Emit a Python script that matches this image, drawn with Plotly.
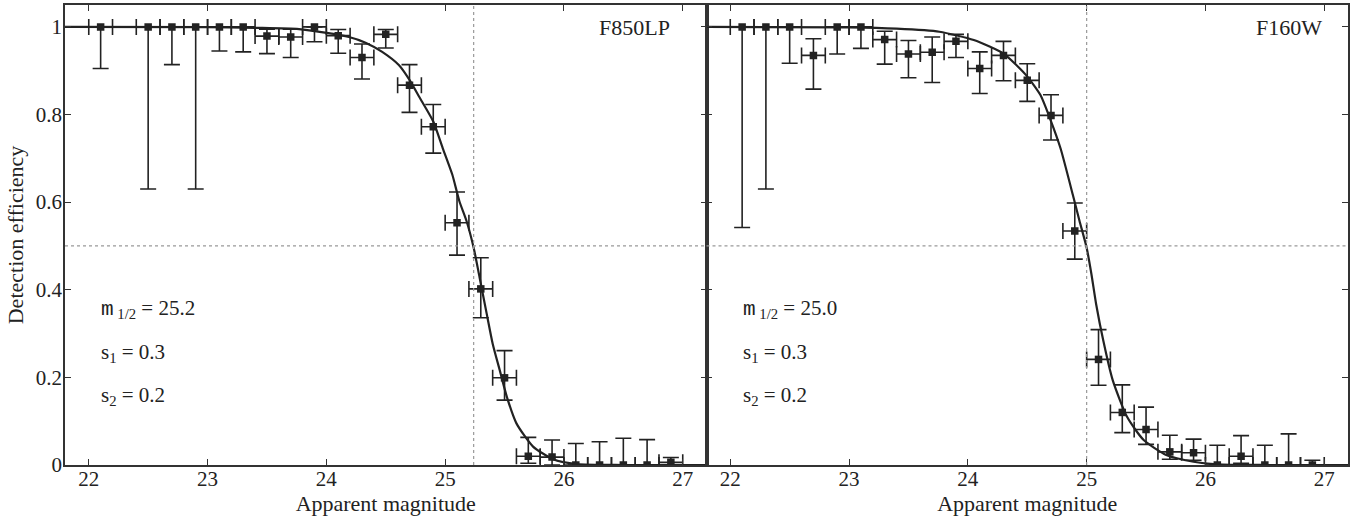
import plotly.graph_objects as go
from plotly.subplots import make_subplots

# F850LP panel (left)
mag_f850 = [22.1, 22.5, 22.7, 22.9, 23.1, 23.3, 23.5, 23.7, 23.9, 24.1, 24.3, 24.5,
            24.7, 24.9, 25.1, 25.3, 25.5, 25.7, 25.9, 26.1, 26.3, 26.5, 26.7, 26.9]
eff_f850 = [1.0, 1.0, 1.0, 1.0, 1.0, 1.0, 0.979, 0.977, 1.0, 0.98, 0.930, 0.983,
            0.867, 0.772, 0.553, 0.402, 0.199, 0.020, 0.018, 0.0, 0.0, 0.0, 0.0, 0.006]
hi_f850 = [1.0, 1.0, 1.0, 1.0, 1.0, 1.0, 0.995, 0.995, 1.0, 0.994, 0.961, 0.994,
           0.914, 0.823, 0.623, 0.473, 0.261, 0.063, 0.057, 0.049, 0.053, 0.061, 0.058, 0.017]
lo_f850 = [0.905, 0.630, 0.914, 0.630, 0.945, 0.943, 0.939, 0.930, 0.966, 0.940, 0.881, 0.952,
           0.805, 0.712, 0.479, 0.336, 0.148, 0.004, 0.0, 0.0, 0.0, 0.0, 0.0, 0.0]
fit_mag_f850 = [21.8, 23.0, 23.4, 23.77, 24.19, 24.33, 24.47, 24.61, 24.70, 24.78, 24.90,
                24.98, 25.06, 25.12, 25.18, 25.24, 25.29, 25.35, 25.40, 25.46, 25.52,
                25.60, 25.74, 25.91, 26.11, 26.5, 27.2]
fit_eff_f850 = [1.0, 0.9995, 0.998, 0.995, 0.977, 0.964, 0.943, 0.913, 0.879, 0.841, 0.784,
                0.723, 0.663, 0.602, 0.557, 0.496, 0.428, 0.345, 0.277, 0.216, 0.155,
                0.095, 0.042, 0.013, 0.002, 0.0, 0.0]

# F160W panel (right)
mag_f160 = [22.1, 22.3, 22.5, 22.7, 22.9, 23.1, 23.3, 23.5, 23.7, 23.9, 24.1, 24.3, 24.5,
            24.7, 24.9, 25.1, 25.3, 25.5, 25.7, 25.9, 26.1, 26.3, 26.5, 26.7, 26.9]
eff_f160 = [1.0, 1.0, 1.0, 0.935, 1.0, 1.0, 0.971, 0.938, 0.942, 0.967, 0.905, 0.935, 0.878,
            0.798, 0.534, 0.241, 0.120, 0.081, 0.030, 0.028, 0.0, 0.020, 0.0, 0.0, 0.0]
hi_f160 = [1.0, 1.0, 1.0, 0.973, 1.0, 1.0, 0.990, 0.969, 0.977, 0.983, 0.943, 0.967, 0.916,
           0.845, 0.598, 0.309, 0.183, 0.132, 0.068, 0.059, 0.045, 0.067, 0.045, 0.071, 0.011]
lo_f160 = [0.542, 0.630, 0.917, 0.858, 0.938, 0.951, 0.915, 0.884, 0.873, 0.930, 0.848, 0.877, 0.830,
           0.742, 0.470, 0.182, 0.074, 0.047, 0.013, 0.011, 0.0, 0.004, 0.0, 0.0, 0.0]
fit_mag_f160 = [21.8, 23.0, 23.4, 23.76, 24.05, 24.30, 24.49, 24.61, 24.69, 24.78, 24.89,
                24.94, 25.0, 25.04, 25.08, 25.14, 25.22, 25.34, 25.48, 25.67, 25.90, 26.10,
                26.5, 27.2]
fit_eff_f160 = [1.0, 0.999, 0.996, 0.989, 0.970, 0.939, 0.890, 0.845, 0.792, 0.723, 0.610,
                0.557, 0.496, 0.436, 0.367, 0.284, 0.193, 0.110, 0.057, 0.023, 0.0075, 0.0016,
                0.0, 0.0]

BIN_HALF = 0.1
FILTERS = ["F850LP", "F160W"]
M_HALF = [25.24, 25.0]
M_HALF_TEXT = ["25.2", "25.0"]
S1_TEXT = ["0.3", "0.3"]
S2_TEXT = ["0.2", "0.2"]
Y_HALF = 0.5
FILTER_LABEL_X = [26.91, 27.0]

INK = "#222222"
FONT = "Times New Roman, Liberation Serif, serif"

fig = make_subplots(rows=1, cols=2, horizontal_spacing=0)

panels = [
    (mag_f850, eff_f850, hi_f850, lo_f850, fit_mag_f850, fit_eff_f850),
    (mag_f160, eff_f160, hi_f160, lo_f160, fit_mag_f160, fit_eff_f160),
]

for i, (mag, eff, hi, lo, fmag, feff) in enumerate(panels):
    col = i + 1
    fig.add_trace(
        go.Scatter(
            x=fmag, y=feff, mode="lines",
            line=dict(color=INK, width=2.2, shape="spline", smoothing=0.6),
            hoverinfo="skip", showlegend=False,
        ),
        row=1, col=col,
    )
    fig.add_trace(
        go.Scatter(
            x=mag, y=eff, mode="markers",
            marker=dict(symbol="square", size=7.5, color=INK),
            error_y=dict(
                type="data", symmetric=False,
                array=[h - e for h, e in zip(hi, eff)],
                arrayminus=[e - l for e, l in zip(eff, lo)],
                color=INK, thickness=1.6, width=8,
            ),
            error_x=dict(
                type="constant", value=BIN_HALF,
                color=INK, thickness=1.6, width=8,
            ),
            showlegend=False,
        ),
        row=1, col=col,
    )
    fig.add_hline(y=Y_HALF, line=dict(color="#999999", width=1.2, dash="dot"), row=1, col=col)
    fig.add_vline(x=M_HALF[i], line=dict(color="#999999", width=1.2, dash="dot"), row=1, col=col)

    xref = "x" if col == 1 else "x2"
    yref = "y" if col == 1 else "y2"
    fig.add_annotation(
        x=FILTER_LABEL_X[i], y=0.998, xref=xref, yref=yref,
        text=FILTERS[i], showarrow=False, xanchor="right", yanchor="middle",
        font=dict(family=FONT, size=22, color=INK),
    )
    lines = [
        ("<span style='font-family:Liberation Mono'>m</span><sub> 1/2</sub> = " + M_HALF_TEXT[i], 0.355),
        ("s<sub>1</sub> = " + S1_TEXT[i], 0.255),
        ("s<sub>2</sub> = " + S2_TEXT[i], 0.157),
    ]
    for txt, yy in lines:
        fig.add_annotation(
            x=22.09, y=yy, xref=xref, yref=yref, text=txt, showarrow=False,
            xanchor="left", yanchor="middle",
            font=dict(family=FONT, size=21, color=INK),
        )

axis_common = dict(
    showline=True, linecolor="#333333", linewidth=1.5, mirror="ticks",
    ticks="inside", ticklen=6, tickwidth=1.2, tickcolor="#333333",
    showgrid=False, zeroline=False, automargin=False,
    tickfont=dict(family=FONT, size=21, color=INK),
)

for col in (1, 2):
    fig.update_xaxes(
        range=[21.8, 27.2], tickvals=[22, 23, 24, 25, 26, 27],
        ticklabelstandoff=-6,
        title=dict(text="Apparent magnitude", font=dict(family=FONT, size=22, color=INK), standoff=0),
        row=1, col=col, **axis_common,
    )
    fig.update_yaxes(
        range=[0, 1.05], tickvals=[0, 0.2, 0.4, 0.6, 0.8, 1],
        ticktext=["0", "0.2", "0.4", "0.6", "0.8", "1"],
        showticklabels=(col == 1), ticklabelstandoff=-3,
        row=1, col=col, **axis_common,
    )

fig.update_yaxes(
    title=dict(text="Detection efficiency", font=dict(family=FONT, size=22, color=INK), standoff=6),
    row=1, col=1,
)
fig.update_xaxes(domain=[0.0, 0.5], row=1, col=1)
fig.update_xaxes(domain=[0.5, 1.0], row=1, col=2)

fig.update_layout(
    width=1367, height=518,
    margin=dict(l=65, r=19, t=5, b=53),
    plot_bgcolor="white", paper_bgcolor="white",
    font=dict(family=FONT, color=INK),
)

# the page body has a default 8px margin; drop it so the figure sits at the window corner
fig.write_html(
    "out.html",
    config={"displayModeBar": False},
    post_script="document.body.style.margin='0px';",
)
